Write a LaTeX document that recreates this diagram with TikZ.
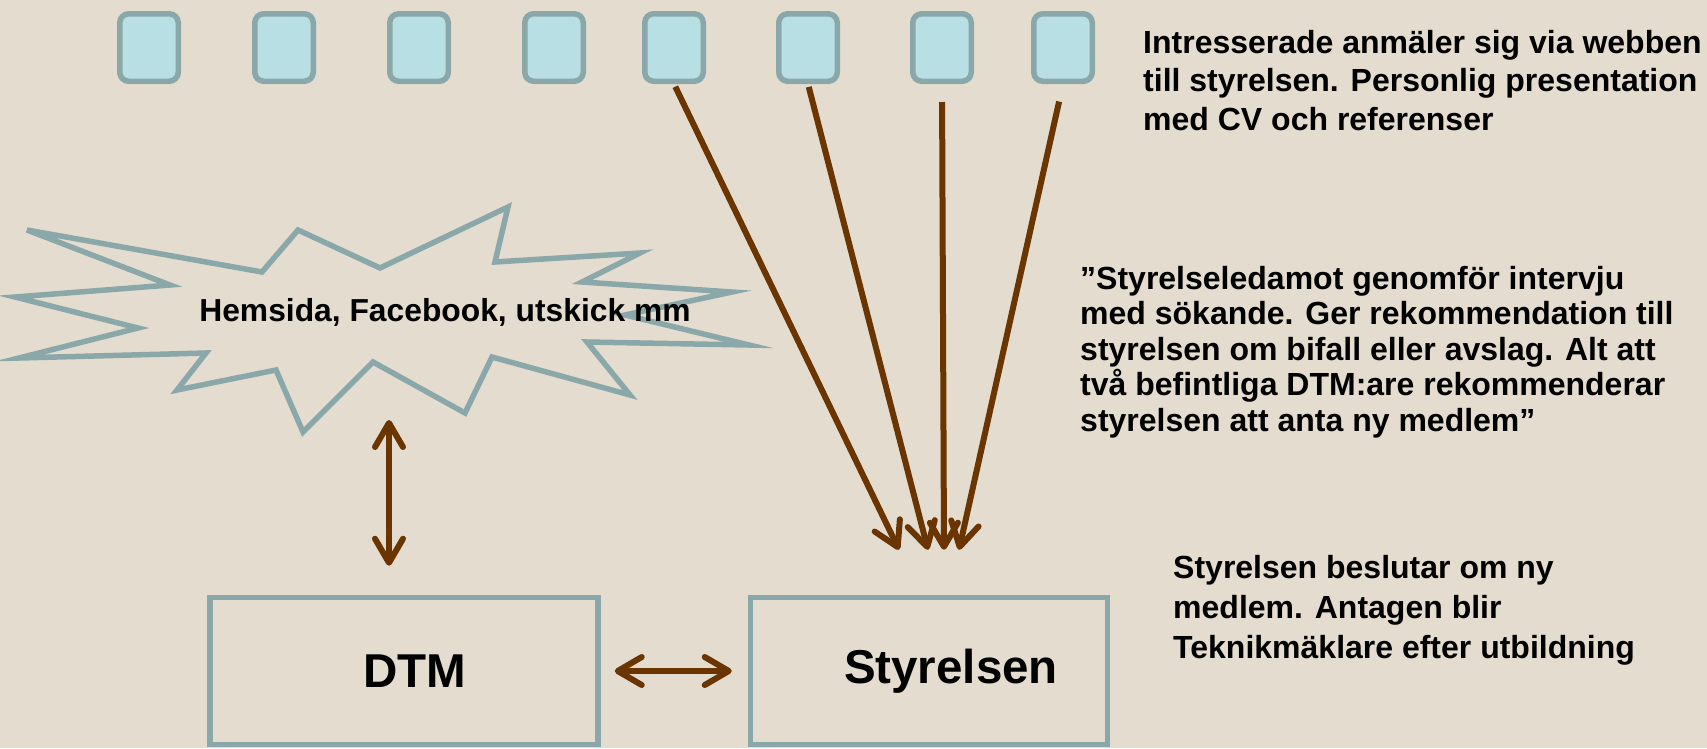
\documentclass[tikz,border=0pt]{standalone}
\usepackage{fontspec}
\setmainfont{Liberation Sans}
\usetikzlibrary{arrows.meta}
\definecolor{paper}{RGB}{228,220,207}
\definecolor{sqfill}{RGB}{184,223,227}
\definecolor{frame}{RGB}{138,168,170}
\definecolor{arrowbrown}{RGB}{106,53,0}
\begin{document}
\begin{tikzpicture}[x=1pt,y=-1pt,
  member/.style={draw=frame,fill=sqfill,line width=5.5pt,rounded corners=9pt,minimum width=58.5pt,minimum height=67.5pt,inner sep=0pt},
  box/.style={draw=frame,line width=5.5pt,minimum width=388pt,minimum height=147pt,font=\fontsize{47.5}{50}\selectfont\bfseries},
  note/.style={align=left,anchor=north west,inner sep=0pt,font=\fontsize{32}{38.5}\selectfont\bfseries},
  barb/.tip={Straight Barb[length=24pt,width=28pt,round]},
  link/.style={draw=arrowbrown,line width=6pt,-barb},
  both/.style={draw=arrowbrown,line width=6pt,barb-barb}]
\fill[paper] (0,0) rectangle (1707,748);
\useasboundingbox (0,0) rectangle (1707,748);
    \node[member] (q1) at (149,47.5) {};
    \node[member] (q2) at (284,47.5) {};
    \node[member] (q3) at (419,47.5) {};
    \node[member] (q4) at (554,47.5) {};
    \node[member] (q5) at (674,47.5) {};
    \node[member] (q6) at (808,47.5) {};
    \node[member] (q7) at (942,47.5) {};
    \node[member] (q8) at (1063,47.5) {};
    \draw[frame,line width=5.5pt] (27,230) -- (262,272) -- (298,230) -- (380,268) -- (508,207) -- (495,262) -- (640,253) -- (582,282) -- (732,292) -- (625,315) -- (749,345) -- (587,342) -- (630,395) -- (492,357) -- (465,413) -- (373,362) -- (303,432) -- (276,370) -- (177,390) -- (206,353) -- (19,358) -- (138,328) -- (15,297) -- (170,285) -- cycle;
    \node[font=\fontsize{31.8}{36}\selectfont\bfseries,anchor=base] (web) at (445,321) {Hemsida, Facebook, utskick mm};
    \coordinate (webfoot) at (389,420);
    \node[box] (dtm) at (404,671) {\hspace*{22pt}DTM};
    \node[box,minimum width=357pt] (sty) at (929,671) {\hspace*{44pt}Styrelsen};
    \coordinate (t1) at ([shift={(-30,-45)}]sty.north);
    \coordinate (t2) at ([shift={(-1,-45)}]sty.north);
    \coordinate (t3) at ([shift={(15,-45)}]sty.north);
    \coordinate (t4) at ([shift={(30,-45)}]sty.north);
    \draw[link,shorten <=3pt] (q5.south) -- (t1);
    \draw[link,shorten <=3pt] (q6.south) -- (t2);
    \draw[link,shorten <=18pt] (q7.south) -- (t3);
    \draw[link,shorten <=18pt] (q8.south) -- (t4);
    \draw[both,shorten >=29pt] (webfoot) -- (webfoot |- dtm.north);
    \draw[both,shorten <=14pt,shorten >=16pt] (dtm) -- (sty);
    \node[note] (n1) at (1143,30) {Intresserade anmäler sig via webben\\till styrelsen. Personlig presentation\\med CV och referenser};
    \node[note,font=\fontsize{32}{35.5}\selectfont\bfseries] (n2) at (1080,266) {”Styrelseledamot genomför intervju\\med sökande. Ger rekommendation till\\styrelsen om bifall eller avslag. Alt att\\två befintliga DTM:are rekommenderar\\styrelsen att anta ny medlem”};
    \node[note,font=\fontsize{32}{40}\selectfont\bfseries] (n3) at (1173,555) {Styrelsen beslutar om ny\\medlem. Antagen blir\\Teknikmäklare efter utbildning};
\end{tikzpicture}
\end{document}
